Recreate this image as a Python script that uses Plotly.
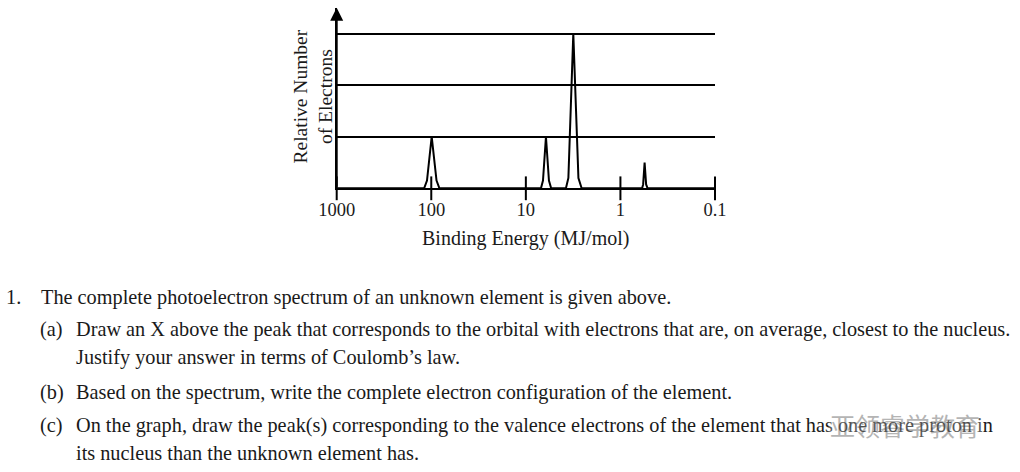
import plotly.graph_objects as go

# ---- data ----
# spectrum trace (binding energy MJ/mol, relative number of electrons)
energy = [1000, 119, 111, 99, 88, 82,
          6.92, 6.59, 6.13, 5.70, 5.40,
          3.77, 3.55, 3.15, 2.78, 2.57,
          0.59, 0.575, 0.555, 0.535, 0.516, 0.1]
electrons = [0, 0, 0.3, 2, 0.3, 0,
             0, 0.3, 2, 0.3, 0,
             0, 0.4, 6, 0.4, 0,
             0, 0.15, 1, 0.15, 0, 0]

tick_vals = [1000, 100, 10, 1, 0.1]
tick_text = ["1000", "100", "10", "1", "0.1"]
grid_vals = [2, 4, 6]

question_lines = [
    ("1.", "The complete photoelectron spectrum of an unknown element is given above."),
    ("(a)", "Draw an X above the peak that corresponds to the orbital with electrons that are, on average, closest to the nucleus."),
    ("", "Justify your answer in terms of Coulomb\u2019s law."),
    ("(b)", "Based on the spectrum, write the complete electron configuration of the element."),
    ("(c)", "On the graph, draw the peak(s) corresponding to the valence electrons of the element that has one more proton in"),
    ("", "its nucleus than the unknown element has."),
]

W, H = 1020, 472
SERIF = "Liberation Serif, Times New Roman, serif"
INK = "#1a1a1a"
TXT = 20.3

def px(x):
    return x / W

def py(y):
    return 1 - y / H

fig = go.Figure()
fig.add_trace(go.Scatter(x=energy, y=electrons, mode="lines",
                         line=dict(color="black", width=2),
                         hoverinfo="skip", showlegend=False, cliponaxis=False))
# tick marks crossing the axis line
fig.add_trace(go.Scatter(x=tick_vals, y=[0] * len(tick_vals), mode="markers",
                         marker=dict(symbol="line-ns", size=17,
                                     line=dict(color="black", width=2)),
                         hoverinfo="skip", showlegend=False, cliponaxis=False))

annotations = []
# y axis arrow
annotations.append(dict(x=3, y=7.0, ax=3, ay=0, xref="x", yref="y",
                        axref="x", ayref="y", text="", showarrow=True,
                        arrowhead=2, arrowwidth=2, arrowsize=1.3,
                        arrowcolor="black"))
# y axis title
annotations.append(dict(x=px(312.5), y=py(97), xref="paper", yref="paper",
                        text="Relative Number<br>of Electrons", textangle=-90,
                        showarrow=False, font=dict(family=SERIF, size=19.5, color=INK),
                        xanchor="center", yanchor="middle"))
# x axis title
annotations.append(dict(x=px(525.5), y=py(238), xref="paper", yref="paper",
                        text="Binding Energy (MJ/mol)", showarrow=False,
                        font=dict(family=SERIF, size=20, color=INK),
                        xanchor="center", yanchor="middle"))

line_y = [297, 329, 357, 392, 425, 453]
for (label, body), yy in zip(question_lines, line_y):
    if label == "1.":
        annotations.append(dict(x=px(4), y=py(yy), xref="paper", yref="paper",
                                text=label, showarrow=False, xanchor="left",
                                yanchor="middle",
                                font=dict(family=SERIF, size=TXT, color=INK)))
        bx = 39
    else:
        if label:
            annotations.append(dict(x=px(38), y=py(yy), xref="paper", yref="paper",
                                    text=label, showarrow=False, xanchor="left",
                                    yanchor="middle",
                                    font=dict(family=SERIF, size=TXT, color=INK)))
        bx = 74
    annotations.append(dict(x=px(bx), y=py(yy), xref="paper", yref="paper",
                            text=body, showarrow=False, xanchor="left",
                            yanchor="middle",
                            font=dict(family=SERIF, size=TXT, color=INK)))

# watermark (semi-transparent, as in the reference)
annotations.append(dict(x=px(828), y=py(425), xref="paper", yref="paper",
                        text="\u4e9a\u9886\u777f\u5b66\u6559\u80b2", showarrow=False,
                        xanchor="left", yanchor="middle", opacity=0.55,
                        bgcolor="rgba(255,255,255,0.5)",
                        font=dict(family="Noto Sans CJK SC", size=25, color="#777777")))

fig.update_layout(
    width=W, height=H,
    margin=dict(l=0, r=0, t=0, b=0, autoexpand=False),
    paper_bgcolor="white", plot_bgcolor="white",
    showlegend=False,
    xaxis=dict(type="log", range=[3, -1], domain=[336.7 / W, 715 / W],
               automargin=False,
               tickvals=tick_vals, ticktext=tick_text, ticks="",
               showgrid=False, zeroline=False, showline=True,
               linecolor="black", linewidth=2,
               tickfont=dict(family=SERIF, size=18.5, color=INK),
               ticklabelstandoff=3),
    yaxis=dict(range=[0, 7], domain=[1 - 188.3 / H, 1 - 7.7 / H],
               automargin=False,
               tickvals=grid_vals, showticklabels=False, ticks="",
               showgrid=True, gridcolor="black", gridwidth=2,
               zeroline=False, showline=True, linecolor="black", linewidth=2),
    annotations=annotations,
)

fig.write_html("out.html")
